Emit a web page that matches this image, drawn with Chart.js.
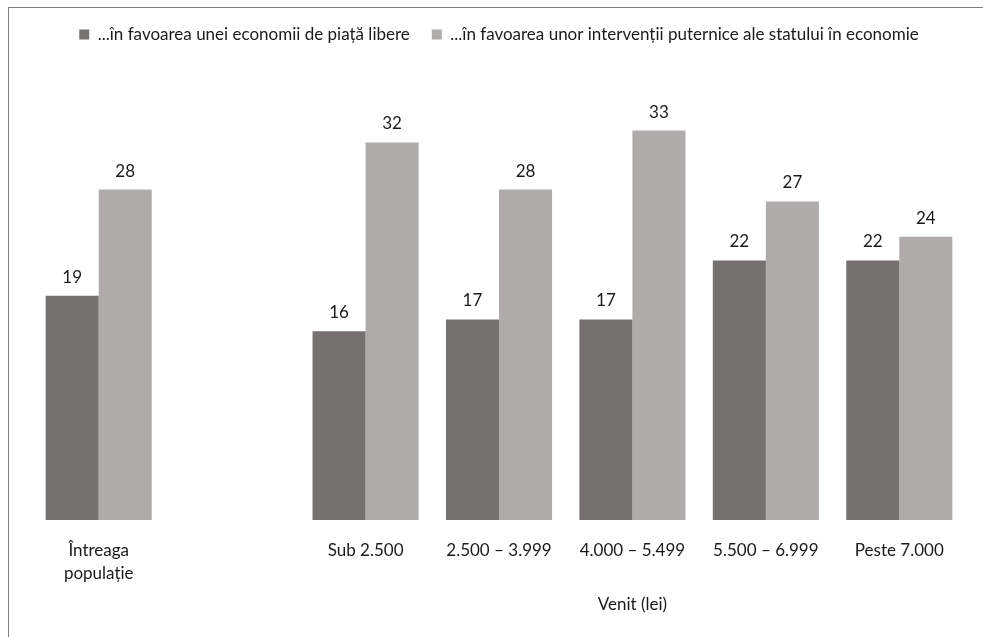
<!DOCTYPE html>
<html>
<head>
<meta charset="utf-8">
<script src="https://cdn.jsdelivr.net/npm/chart.js@4"></script>
<style>
  html, body { margin: 0; padding: 0; background: #fff; }
  #wrap { position: relative; width: 983px; height: 637px; overflow: hidden; }
  #frame { position: absolute; left: 8px; top: 7px; width: 1000px; height: 700px;
           border-left: 1px solid #7f7f7f; border-top: 1px solid #7f7f7f; }
  canvas { position: absolute; left: 0; top: 0; }
</style>
</head>
<body>
<div id="wrap">
  <div id="frame"></div>
  <canvas id="myChart" width="983" height="637"></canvas>
</div>
<script>
// categories (empty slot keeps the gap after the whole-population group)
const labels = [['Întreaga', 'populație'], '', 'Sub 2.500', '2.500 – 3.999', '4.000 – 5.499', '5.500 – 6.999', 'Peste 7.000'];
const freeMarket = [19, null, 16, 17, 17, 22, 22];
const stateIntervention = [28, null, 32, 28, 33, 27, 24];
const seriesNames = ['...în favoarea unei economii de piață libere', '...în favoarea unor intervenții puternice ale statului în economie'];
const axisTitle = 'Venit (lei)';

const FONT = 'Lato, "Open Sans", sans-serif';
const FSIZE = 17;
Chart.defaults.font.family = FONT;
Chart.defaults.font.size = FSIZE;
Chart.defaults.color = '#1a1a1a';

// value labels above every bar
const valueLabels = {
    id: 'valueLabels',
    afterDatasetsDraw(chart) {
        const ctx = chart.ctx;
        ctx.save();
        ctx.font = FSIZE + 'px ' + FONT;
        ctx.fillStyle = '#1a1a1a';
        ctx.textAlign = 'center';
        ctx.textBaseline = 'bottom';
        chart.data.datasets.forEach((ds, i) => {
            chart.getDatasetMeta(i).data.forEach((bar, j) => {
                if (ds.data[j] == null) return;
                ctx.fillText(ds.data[j], bar.x, bar.y - 10);
            });
        });
        ctx.restore();
    }
};

// axis title centred under the income groups only
const incomeTitle = {
    id: 'incomeTitle',
    afterDraw(chart) {
        const x = chart.scales.x;
        const cx = (x.getPixelForValue(2) + x.getPixelForValue(6)) / 2;
        const ctx = chart.ctx;
        ctx.save();
        ctx.font = FSIZE + 'px ' + FONT;
        ctx.fillStyle = '#1a1a1a';
        ctx.textAlign = 'center';
        ctx.textBaseline = 'middle';
        ctx.fillText(axisTitle, cx, 605);
        ctx.restore();
    }
};

// extra space under the legend
const legendGap = {
    id: 'legendGap',
    beforeInit(chart) {
        const fit = chart.legend.fit;
        chart.legend.fit = function () {
            fit.call(this);
            this.height += 54;
        };
    }
};

const data = {
    labels: labels,
    datasets: [{
        label: seriesNames[0],
        data: freeMarket,
        backgroundColor: '#767171'
    }, {
        label: seriesNames[1],
        data: stateIntervention,
        backgroundColor: '#afabab'
    }]
};

const config = {
    type: 'bar',
    data: data,
    plugins: [valueLabels, incomeTitle, legendGap],
    options: {
        responsive: false,
        animation: false,
        layout: { padding: { left: 32, right: 17, top: 4, bottom: 41 } },
        datasets: { bar: { categoryPercentage: 0.795, barPercentage: 1.0 } },
        plugins: {
            legend: {
                position: 'top',
                labels: { boxWidth: 10, boxHeight: 10, padding: 22, color: '#1a1a1a', font: { size: FSIZE } }
            },
            tooltip: { enabled: false }
        },
        scales: {
            x: {
                grid: { display: false },
                border: { display: false },
                ticks: { padding: 11, maxRotation: 0, autoSkip: false, font: { size: FSIZE, lineHeight: 1.35 } }
            },
            y: {
                display: false,
                min: 0,
                max: 35
            }
        }
    }
};

const myChart = new Chart(document.getElementById('myChart'), config);
</script>
</body>
</html>
